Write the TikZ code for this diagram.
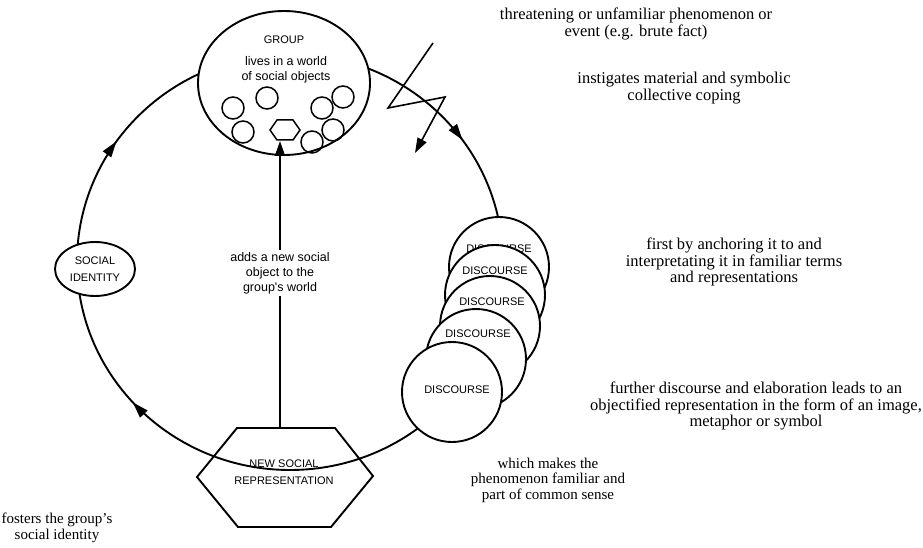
\documentclass[tikz,border=0pt]{standalone}
\usepackage{fontspec}
\setmainfont{Liberation Serif}
\newfontfamily\sansf{Liberation Sans}
\usetikzlibrary{arrows.meta,decorations.markings,shapes.geometric}
\begin{document}
\begin{tikzpicture}[x=1pt,y=-1pt,line width=1.9pt,
  tipst/.style={-{Triangle[length=15pt,width=10pt]}},
  serif/.style={font=\fontsize{16.5}{16.5}\selectfont, align=center, inner sep=0pt},
  serifs/.style={font=\fontsize{15}{15.5}\selectfont, align=center, inner sep=0pt},
  caps/.style={font=\sansf\fontsize{11}{17}\selectfont, align=center, inner sep=0pt},
  lower/.style={font=\sansf\fontsize{12.5}{15}\selectfont, align=center, inner sep=0pt},
  disc/.style={circle, draw, fill=white, minimum size=100pt, inner sep=0pt},
  obj/.style={circle, draw, line width=1.5pt, minimum size=22pt, inner sep=0pt},
]
\useasboundingbox (0,0) rectangle (923,548);

% main loop
\draw[postaction={decorate}, decoration={markings,
   mark=at position 0.0975 with {\arrow{Triangle[length=16pt,width=10pt]}},
   mark=at position 0.401 with {\arrow{Triangle[length=16pt,width=10pt]}},
   mark=at position 0.883 with {\arrow{Triangle[length=16pt,width=10pt]}}}]
  (77,262) arc[start angle=180, end angle=-180, x radius=213pt, y radius=208pt];

% group
\node[ellipse, draw, fill=white, minimum width=172pt, minimum height=144pt] (group) at (284,83) {};
\node[caps, font=\sansf\fontsize{11}{12}\selectfont] (grouplab) at (284,40) {GROUP};
\node[lower] (world) at (286,70) {lives in a world\\of social objects};
\node[obj] (o1) at (267,98) {};
\node[obj] (o2) at (233,108) {};
\node[obj] (o3) at (243,132) {};
\node[obj] (o4) at (322,108) {};
\node[obj] (o5) at (343,97) {};
\node[obj] (o6) at (333,130) {};
\node[obj] (o7) at (312,142) {};
\draw[line width=1.5pt] (270,130) -- (277,120) -- (293,120) -- (300,130) -- (293,140) -- (277,140) -- cycle;
\coordinate (newobj) at (280,141);

% social identity
\node[ellipse, draw, fill=white, minimum width=80pt, minimum height=54pt, caps] (sid) at (95,269) {SOCIAL\\IDENTITY};

% discourse stack
\node[disc] (d1) at (499,267) {};
\node[caps] (d1lab) at (499,249) {DISCOURSE};
\node[disc] (d2) at (495,295) {};
\node[caps] (d2lab) at (495,271) {DISCOURSE};
\node[disc] (d3) at (490,326) {};
\node[caps] (d3lab) at (492,302) {DISCOURSE};
\node[disc] (d4) at (476,359) {};
\node[caps] (d4lab) at (478,334) {DISCOURSE};
\node[disc] (d5) at (452,392) {};
\node[caps] (d5lab) at (457,390) {DISCOURSE};

% new social representation
\draw (237,428) -- (335,428) -- (373,476) -- (331,527) -- (238,527) -- (197,477) -- cycle;
\node[caps] (nsr) at (284,472) {NEW SOCIAL\\REPRESENTATION};
\coordinate (hextop) at (280,428);
\draw[tipst] (hextop) -- (newobj)
  node[pos=0.54, fill=white, lower, inner sep=2pt] (addlab) {adds a new social\\object to the\\group's world};

% lightning
\coordinate (l1) at (433,43);
\coordinate (l2) at (388,108);
\coordinate (l3) at (445,97);
\coordinate (l4) at (415,153);
\draw[tipst, line width=1.6pt] (l1) -- (l2) -- (l3) -- (l4);

% texts
\node[serif] (t1) at (636,24) {threatening or unfamiliar phenomenon or\\event (e.g. brute fact)};
\node[serif] (t2) at (684,88) {instigates material and symbolic\\collective coping};
\node[serif] (t3) at (734,262) {first by anchoring it to and\\interpretating it in familiar terms\\and representations};
\node[serif] (t4) at (756,406) {further discourse and elaboration leads to an\\objectified representation in the form of an image,\\metaphor or symbol};
\node[serifs] (t5) at (548,480) {which makes the\\phenomenon familiar and\\part of common sense};
\node[serifs] (t6) at (57,528) {fosters the group's\\social identity};
\end{tikzpicture}
\end{document}
